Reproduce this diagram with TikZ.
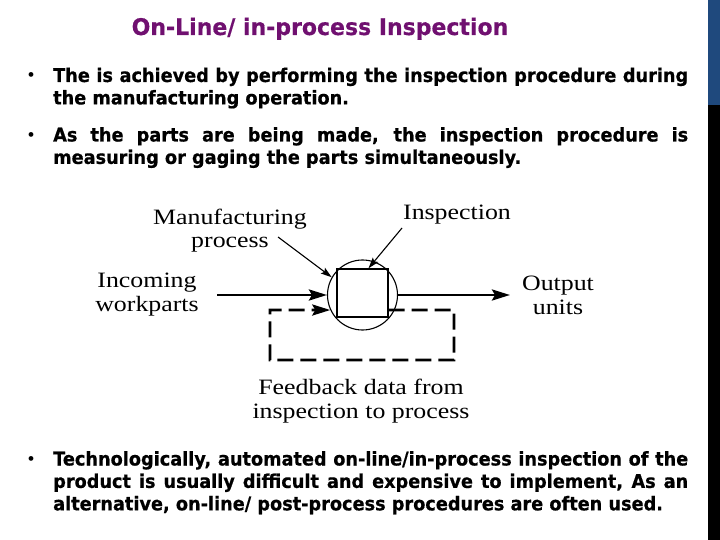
\documentclass[tikz,border=0pt]{standalone}
\usepackage{fontspec}
\setmainfont{Liberation Serif}
\newfontfamily\lblfont{Liberation Serif}[FakeStretch=1.18]
\newfontfamily\bodyfont{DejaVu Sans Bold}[FakeStretch=0.935,FakeBold=0.6]
\newfontfamily\ttlfont{DejaVu Sans Bold}[FakeStretch=0.96,FakeBold=0.4]
\definecolor{ttlpurple}{RGB}{112,16,112}
\definecolor{barblue}{RGB}{31,73,125}
\usetikzlibrary{arrows.meta,calc}

\begin{document}
\begin{tikzpicture}[x=1bp,y=-1bp,
  lbl/.style={font=\lblfont\fontsize{22}{24}\selectfont,align=center,inner sep=0pt,anchor=base},
  txt/.style={font=\bodyfont\fontsize{19}{22.5}\selectfont,text width=635bp,align=justify,inner sep=0pt,anchor=base west},
  dotb/.style={font=\fontsize{20}{20}\selectfont,inner sep=0pt,anchor=base},
  flow/.style={line width=2.8bp,-{Stealth[length=18bp,width=11bp,inset=3bp]}},
  ptr/.style={line width=1.1bp,-{Stealth[length=11bp,width=7bp,inset=2bp]}},
  feed/.style={line width=2.8bp,dash pattern=on 16bp off 7bp}]
  \useasboundingbox (0,0) rectangle (720,540);
  \fill[white] (0,0) rectangle (720,540);
  \fill[barblue] (708,0) rectangle (720,105);
  \fill[black] (708,105) rectangle (720,540);

  \node[font=\ttlfont\fontsize{23}{26}\selectfont,text=ttlpurple,inner sep=0pt,anchor=base] (title) at (320,35) {On-Line/ in-process Inspection};

  \node[dotb] (d1) at (31,82) {•};
  \node[txt] (b1) at (53,82) {The is achieved by performing the inspection procedure during\linebreak the manufacturing operation.};
  \node[dotb] (d2) at (31,141.5) {•};
  \node[txt] (b2) at (53,141.5) {As the parts are being made, the inspection procedure is\linebreak measuring or gaging the parts simultaneously.};
  \node[dotb] (d3) at (31,465.5) {•};
  \node[txt] (b3) at (53,465.5) {Technologically, automated on-line/in-process inspection of the\linebreak product is usually difficult and expensive to implement, As an\linebreak alternative, on-line/ post-process procedures are often used.};

  \node[draw,circle,minimum size=70bp,inner sep=0pt,line width=1.1bp] (proc) at (362.5,295) {};
  \node[draw,minimum width=51bp,minimum height=48bp,inner sep=0pt,line width=1.4bp] (insp) at (362.5,293) {};

  \node[lbl] (mfg) at (230,248) {Manufacturing\\process};
  \node[lbl] (insplbl) at (457,220) {Inspection};
  \node[lbl] (inc) at (147,311.5) {Incoming\\workparts};
  \node[lbl] (outp) at (558,314) {Output\\units};
  \node[lbl] (fbk) at (361,418) {Feedback data from\\inspection to process};

  \coordinate (inctail) at (217,295);
  \coordinate (outhead) at (510,295);
  \coordinate (mfgtail) at (278,237);
  \coordinate (insptail) at (402,228);
  \coordinate (fbr) at (454,310);
  \coordinate (fbbr) at (454,360);
  \coordinate (fbbl) at (270,360);
  \coordinate (fbl) at (270,310);

  \draw[flow] (inctail) -- (proc.west);
  \draw[flow] (proc.east) -- (outhead);
  \draw[ptr] (mfgtail) -- (proc.150);
  \draw[ptr] (insptail) -- ($(insp.north)+(6,0)$);
  \draw[feed,-{Stealth[length=18bp,width=11bp,inset=3bp]}] (insp.east |- fbr) -- (fbr) -- (fbbr) -- (fbbl) -- (fbl) -- (proc.205);
\end{tikzpicture}
\end{document}
